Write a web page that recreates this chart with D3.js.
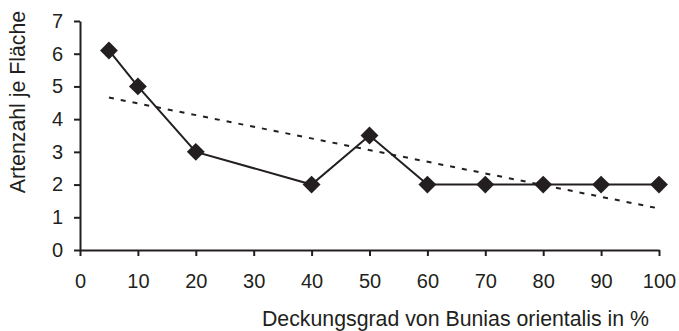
<!DOCTYPE html>
<html><head><meta charset="utf-8">
<script src="https://cdn.jsdelivr.net/npm/d3@7"></script>
<style>
body{margin:0;background:#fff;}
text{font-family:"Liberation Sans",Arial,sans-serif;fill:#231f20;}
</style></head>
<body><svg id="c" width="679" height="331"></svg>
<script>
const xValues = [5, 10, 20, 40, 50, 60, 70, 80, 90, 100];
const yValues = [6.1, 5, 3, 2, 3.5, 2, 2, 2, 2, 2];
const trendX = [5, 100];
const trendY = [4.66, 1.27];
const xTicks = [0,10,20,30,40,50,60,70,80,90,100];
const yTicks = [0,1,2,3,4,5,6,7];
const xTitle = "Deckungsgrad von Bunias orientalis in %";
const yTitle = "Artenzahl je Fläche";

const svg = d3.select("#c");
const col = "#231f20";
const x = d3.scaleLinear().domain([0,100]).range([80,659]);
const y = d3.scaleLinear().domain([0,7]).range([250,21]);

const xAxis = svg.append("g").attr("transform","translate(0,250)")
  .call(d3.axisBottom(x).tickValues(xTicks).tickFormat(d3.format("d")).tickSize(6).tickSizeOuter(0).tickPadding(18));
const yAxis = svg.append("g").attr("transform","translate(80,0)")
  .call(d3.axisLeft(y).tickValues(yTicks).tickFormat(d3.format("d")).tickSize(6).tickSizeOuter(0).tickPadding(11));
[xAxis,yAxis].forEach(g=>{
  g.select(".domain").attr("stroke",col).attr("stroke-width",2);
  g.selectAll(".tick line").attr("stroke",col).attr("stroke-width",2);
  g.selectAll(".tick text").attr("font-size",20).attr("font-family","Liberation Sans, Arial, sans-serif").attr("fill",col);
});

svg.append("path")
  .datum(trendX.map((d,i)=>[d,trendY[i]]))
  .attr("d", d3.line().x(d=>x(d[0])).y(d=>y(d[1])))
  .attr("fill","none").attr("stroke",col).attr("stroke-width",2).attr("stroke-dasharray","5,7");

svg.append("path")
  .datum(xValues.map((d,i)=>[d,yValues[i]]))
  .attr("d", d3.line().x(d=>x(d[0])).y(d=>y(d[1])))
  .attr("fill","none").attr("stroke",col).attr("stroke-width",2);

svg.selectAll(".pt").data(xValues.map((d,i)=>[d,yValues[i]])).enter().append("path")
  .attr("d", d3.symbol(d3.symbolSquare, 160)())
  .attr("transform",d=>`translate(${x(d[0])},${y(d[1])}) rotate(45)`)
  .attr("fill",col);

svg.append("text").attr("x",455.5).attr("y",326).attr("text-anchor","middle")
  .attr("font-size",21.3).text(xTitle);
svg.append("text").attr("transform","translate(25,102) rotate(-90)").attr("text-anchor","middle")
  .attr("font-size",21.3).text(yTitle);
</script></body></html>
